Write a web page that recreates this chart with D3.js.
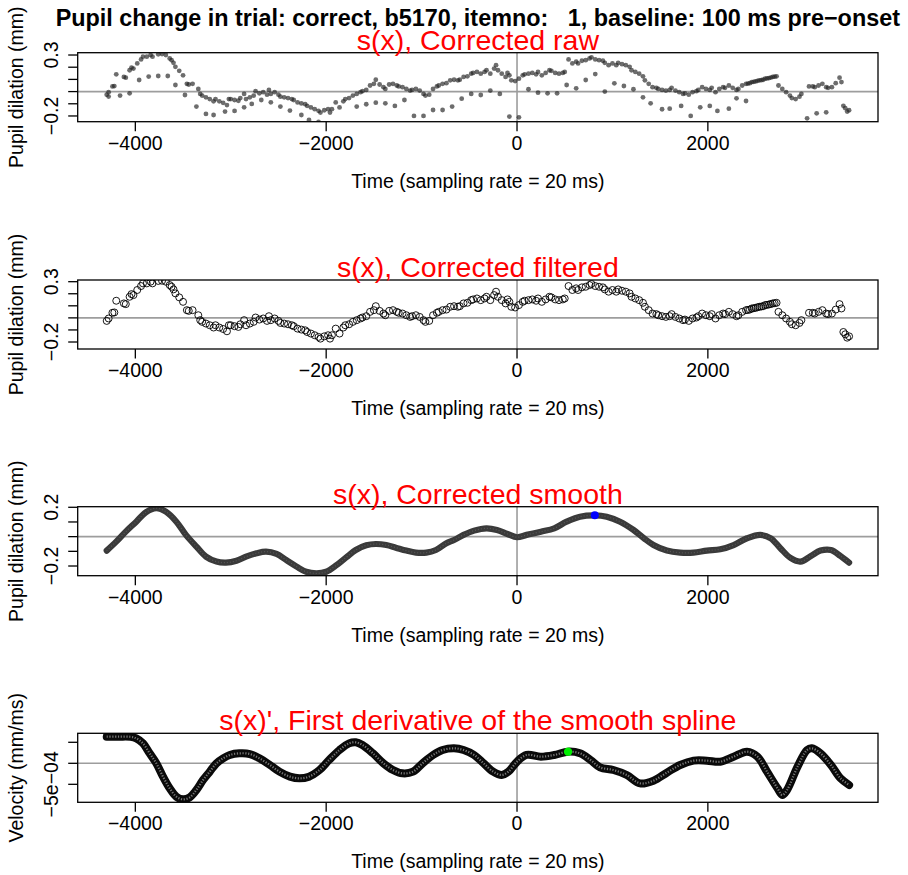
<!DOCTYPE html>
<html>
<head>
<meta charset="utf-8">
<script src="https://cdn.jsdelivr.net/npm/d3@7"></script>
<style>
  body { margin: 0; background: #fff; }
  svg { display: block; }
  text { font-family: "Liberation Sans", Arial, Helvetica, sans-serif; }
</style>
</head>
<body>
<svg id="chart" width="908" height="875"></svg>
<script>
// ---- text ----
const mainTitle = "Pupil change in trial: correct, b5170, itemno:   1, baseline: 100 ms pre\u2212onset";
const panelTitles = [
  "s(x), Corrected raw",
  "s(x), Corrected filtered",
  "s(x), Corrected smooth",
  "s(x)', First derivative of the smooth spline"
];
const yTitles = ["Pupil dilation (mm)", "Pupil dilation (mm)", "Pupil dilation (mm)", "Velocity (mm/ms)"];
const xTitle = "Time (sampling rate = 20 ms)";

// ---- axis ticks ----
const xTicks = [-4000, -2000, 0, 2000];
const yTicksPupil = [-0.2, -0.1, 0, 0.1, 0.2, 0.3];
const yTicksSmooth = [-0.2, -0.1, 0, 0.1, 0.2];
const yTicksVelocity = [-5e-4, 0, 5e-4];

// ---- corrected pupil trace (ms, mm) ----
const pupilTime = [
  -4300,-4280,-4240,-4220,-4200,-4120,-4100,-4060,-4040,-4020,-3980,-3940,-3920,-3880,-3840,-3820,
  -3760,-3720,-3680,-3640,-3620,-3600,-3580,-3540,-3500,-3460,-3440,-3400,-3340,-3320,-3300,-3260,
  -3220,-3180,-3160,-3120,-3080,-3040,-3020,-3000,-2960,-2920,-2900,-2860,-2840,-2800,-2760,-2740,
  -2700,-2660,-2620,-2600,-2580,-2540,-2500,-2480,-2440,-2400,-2360,-2340,-2300,-2260,-2220,-2200,
  -2160,-2120,-2080,-2060,-2020,-1980,-1960,-1940,-1900,-1860,-1820,-1800,-1760,-1720,-1680,-1640,
  -1620,-1580,-1540,-1500,-1480,-1440,-1400,-1380,-1340,-1300,-1260,-1240,-1200,-1160,-1120,-1100,
  -1060,-1020,-980,-960,-920,-880,-840,-820,-780,-740,-700,-660,-620,-600,-560,-520,
  -480,-460,-420,-380,-340,-320,-280,-240,-220,-200,-160,-120,-100,-80,-60,-20,
  20,60,80,120,160,200,220,260,300,340,360,400,440,480,500,540,
  580,620,640,680,720,760,780,820,860,900,920,960,1000,1040,1060,1100,
  1140,1180,1200,1240,1280,1320,1340,1380,1420,1460,1480,1520,1560,1600,1620,1660,
  1700,1740,1760,1800,1840,1880,1900,1940,1980,2020,2040,2080,2120,2160,2180,2220,
  2260,2300,2320,2360,2400,2420,2440,2460,2480,2500,2520,2540,2560,2580,2600,2620,
  2640,2660,2680,2700,2720,2740,2780,2820,2860,2880,2920,2960,2980,3060,3100,3120,
  3160,3200,3240,3260,3300,3340,3380,3400,3420,3440,3460,3480
];
const pupilValue = [
  -0.025,-0.005,0.042,0.045,0.142,0.120,0.114,0.175,0.197,0.189,0.231,0.264,0.286,0.286,0.300,0.286,
  0.306,0.308,0.300,0.272,0.258,0.236,0.203,0.170,0.133,0.064,0.058,0.064,0.022,-0.019,-0.033,-0.047,
  -0.061,-0.080,-0.061,-0.080,-0.092,-0.111,-0.061,-0.061,-0.069,-0.075,-0.053,-0.019,-0.061,-0.047,-0.033,0.003,
  -0.014,-0.005,-0.025,0.014,-0.019,-0.005,-0.025,-0.042,-0.047,-0.053,-0.061,-0.069,-0.089,-0.097,-0.103,-0.117,
  -0.130,-0.144,-0.158,-0.172,-0.153,-0.144,-0.172,-0.144,-0.089,-0.130,-0.080,-0.061,-0.053,-0.033,-0.019,-0.005,
  0.003,0.014,0.050,0.064,0.097,0.058,0.036,0.022,0.058,0.064,0.050,0.042,0.036,0.022,0.008,0.014,
  0.022,0.008,-0.019,-0.033,-0.025,0.022,0.042,0.050,0.064,0.069,0.092,0.097,0.092,0.097,0.120,0.125,
  0.147,0.153,0.161,0.147,0.161,0.175,0.147,0.189,0.217,0.175,0.147,0.120,0.153,0.133,0.092,0.086,
  0.106,0.133,0.142,0.147,0.153,0.142,0.161,0.133,0.153,0.175,0.170,0.153,0.147,0.153,0.161,0.264,
  0.231,0.245,0.231,0.253,0.258,0.272,0.281,0.264,0.258,0.253,0.236,0.217,0.231,0.217,0.236,0.225,
  0.217,0.203,0.175,0.161,0.147,0.125,0.092,0.064,0.036,0.031,0.022,0.014,0.008,0.014,0.031,0.008,
  -0.005,-0.019,-0.014,-0.025,-0.005,0.003,0.014,0.036,0.022,0.014,0.031,-0.005,0.022,0.036,0.031,0.050,
  0.031,0.014,0.022,0.050,0.064,0.066,0.069,0.078,0.080,0.083,0.088,0.092,0.094,0.097,0.106,0.108,
  0.111,0.115,0.120,0.122,0.125,0.050,0.022,-0.005,-0.033,-0.053,-0.061,-0.042,-0.019,0.042,0.042,0.036,
  0.050,0.064,0.036,0.031,0.036,0.069,0.114,0.078,-0.117,-0.136,-0.164,-0.153
];

// ---- raw samples that the filter removes (ms, mm) ----
const rawDropTime = [
  -4280,-4160,-4060,-3960,-3860,-3760,-3660,-3580,-3480,-3360,-3260,-3180,-3060,-2960,-2860,-2780,
  -2680,-2580,-2480,-2380,-2260,-2180,-2080,-1680,-1580,-1480,-1380,-1280,-1180,-1080,-980,-880,
  -780,-680,-580,-480,-380,-280,-180,-80,20,120,220,320,420,520,620,720,
  820,920,1020,1120,1220,1320,1400,1520,1600,1720,1820,1920,2020,2100,2220,2300,
  2400,3040,3140,3240
];
const rawDropValue = [
  -0.041,-0.033,-0.014,0.095,0.123,0.128,0.128,0.054,-0.028,-0.123,-0.183,-0.192,-0.164,-0.159,-0.129,-0.101,
  -0.069,-0.088,-0.123,-0.156,-0.192,-0.233,-0.249,-0.123,-0.104,-0.091,-0.096,-0.118,-0.069,-0.200,-0.200,-0.151,
  -0.151,-0.123,-0.058,-0.019,-0.028,0.008,-0.019,-0.205,-0.211,0.019,-0.009,-0.014,-0.014,0.054,0.027,0.095,
  0.144,0.000,0.068,0.046,0.019,-0.047,-0.096,-0.145,-0.140,-0.118,-0.200,-0.129,-0.118,-0.159,-0.140,-0.055,
  -0.077,-0.219,-0.178,-0.170
];

// ---- smoothing spline (ms, mm) ----
const smoothTime = [
  -4300,-4200,-4100,-3990,-3890,-3780,-3680,-3570,-3470,-3360,-3260,-3150,-3050,-2940,-2840,-2730,
  -2630,-2520,-2420,-2310,-2210,-2100,-2000,-1890,-1790,-1690,-1580,-1480,-1370,-1270,-1160,-1060,
  -950,-850,-740,-660,-560,-450,-320,-210,-100,0,100,250,390,520,660,815,
  940,1080,1220,1330,1430,1570,1710,1850,1990,2130,2270,2410,2550,2660,2760,2870,
  2970,3080,3180,3290,3390,3480
];
const smoothValue = [
  -0.095,-0.034,0.034,0.102,0.166,0.194,0.170,0.102,0.012,-0.068,-0.136,-0.170,-0.177,-0.164,-0.136,-0.113,
  -0.102,-0.118,-0.159,-0.204,-0.239,-0.250,-0.239,-0.193,-0.141,-0.091,-0.059,-0.050,-0.057,-0.075,-0.095,-0.109,
  -0.109,-0.091,-0.045,-0.023,0.012,0.041,0.057,0.046,0.018,-0.004,0.012,0.034,0.057,0.102,0.136,0.145,
  0.136,0.102,0.046,-0.011,-0.057,-0.095,-0.109,-0.109,-0.095,-0.086,-0.057,-0.011,0.012,-0.011,-0.079,-0.147,
  -0.170,-0.132,-0.095,-0.091,-0.132,-0.177
];
const smoothPeakTime = [815];
const smoothPeakValue = [0.145];

// ---- first derivative of the spline (ms, mm/ms) ----
const velocityTime = [
  -4300,-4170,-4050,-3990,-3920,-3850,-3780,-3710,-3640,-3570,-3500,-3430,-3360,-3290,-3220,-3150,
  -3080,-3010,-2910,-2800,-2700,-2590,-2490,-2380,-2280,-2180,-2070,-1970,-1860,-1760,-1690,-1620,
  -1510,-1400,-1300,-1200,-1090,-990,-880,-780,-660,-560,-450,-350,-250,-160,-90,0,
  100,250,390,535,660,770,870,1010,1150,1290,1430,1570,1710,1850,1990,2130,
  2270,2410,2520,2620,2730,2780,2830,2940,3040,3090,3180,3290,3390,3480
];
const velocityValue = [
  6.34e-4,6.34e-4,6.30e-4,5.94e-4,4.75e-4,2.37e-4,0,-3.18e-4,-5.96e-4,-7.94e-4,-8.58e-4,-8.10e-4,-6.35e-4,-3.97e-4,-1.99e-4,0,
  1.18e-4,1.98e-4,2.37e-4,2.21e-4,1.18e-4,-0.40e-4,-1.99e-4,-3.18e-4,-3.58e-4,-3.18e-4,-1.59e-4,0.79e-4,3.17e-4,4.75e-4,5.00e-4,4.36e-4,
  2.37e-4,0,-1.59e-4,-2.39e-4,-1.99e-4,0,1.98e-4,3.17e-4,3.56e-4,3.17e-4,1.98e-4,0,-1.99e-4,-2.78e-4,-1.99e-4,0.39e-4,
  1.98e-4,1.58e-4,1.98e-4,2.77e-4,2.37e-4,0.79e-4,-0.96e-4,-1.59e-4,-2.78e-4,-4.77e-4,-4.13e-4,-2.23e-4,-0.40e-4,0.63e-4,0.63e-4,0.39e-4,
  1.58e-4,2.77e-4,1.58e-4,-1.99e-4,-5.96e-4,-7.54e-4,-6.35e-4,-0.80e-4,3.17e-4,3.56e-4,2.37e-4,-0.40e-4,-3.58e-4,-5.16e-4
];
const velocityPeakTime = [535];
const velocityPeakValue = [2.77e-4];

// ---- layout ----
const plotLeft = 77.7, plotRight = 878;
const panelTop = [52.7, 280, 506.7, 733.3];
const panelH = 69;
const baseFont = 19.5;

const svg = d3.select("#chart");
const x = d3.scaleLinear().domain([-4604, 3783]).range([plotLeft, plotRight]);

const zip = (t, v) => t.map((d, i) => ({ t: d, v: v[i] }));
const fmtDec = d3.format(".1f");
function fmtSci(v) {
  if (v === 0) return "0e+00";
  const e = Math.floor(Math.log10(Math.abs(v)));
  const m = Math.round(v / Math.pow(10, e));
  return (m < 0 ? "\u2212" : "") + Math.abs(m) + "e" + (e < 0 ? "\u2212" : "+") + String(Math.abs(e)).padStart(2, "0");
}

const panels = [
  { domain: [-0.247, 0.319], ticks: yTicksPupil, fmt: fmtDec },
  { domain: [-0.258, 0.314], ticks: yTicksPupil, fmt: fmtDec },
  { domain: [-0.266, 0.204], ticks: yTicksSmooth, fmt: fmtDec },
  { domain: [-9.28e-4, 7.14e-4], ticks: yTicksVelocity, fmt: fmtSci }
];

// main title
svg.append("text")
  .attr("x", (plotLeft + plotRight) / 2).attr("y", 26)
  .attr("text-anchor", "middle")
  .attr("font-size", 23.4).attr("font-weight", "bold")
  .attr("xml:space", "preserve").style("white-space", "pre")
  .text(mainTitle);

panels.forEach((p, i) => {
  const top = panelTop[i], bottom = top + panelH;
  const y = d3.scaleLinear().domain(p.domain).range([bottom, top]);
  const g = svg.append("g");

  const clipId = "clip" + i;
  svg.append("clipPath").attr("id", clipId)
    .append("rect").attr("x", plotLeft).attr("y", top)
    .attr("width", plotRight - plotLeft).attr("height", panelH);
  const plot = g.append("g").attr("clip-path", `url(#${clipId})`);

  // reference lines at zero
  plot.append("line")
    .attr("x1", plotLeft).attr("x2", plotRight)
    .attr("y1", y(0)).attr("y2", y(0))
    .attr("stroke", "#9d9d9d").attr("stroke-width", 1.6);
  plot.append("line")
    .attr("x1", x(0)).attr("x2", x(0))
    .attr("y1", top).attr("y2", bottom)
    .attr("stroke", "#9d9d9d").attr("stroke-width", 1.6);

  if (i === 0) {
    const pts = zip(pupilTime, pupilValue).concat(zip(rawDropTime, rawDropValue));
    plot.selectAll("circle.raw").data(pts).join("circle")
      .attr("class", "raw")
      .attr("cx", d => x(d.t)).attr("cy", d => y(d.v)).attr("r", 2.4)
      .attr("fill", "#222").attr("fill-opacity", 0.66);
  } else if (i === 1) {
    plot.selectAll("circle.filt").data(zip(pupilTime, pupilValue)).join("circle")
      .attr("class", "filt")
      .attr("cx", d => x(d.t)).attr("cy", d => y(d.v)).attr("r", 3.5)
      .attr("fill", "none").attr("stroke", "#000").attr("stroke-width", 0.9);
  } else if (i === 2) {
    const line = d3.line().x(d => x(d.t)).y(d => y(d.v)).curve(d3.curveCatmullRom.alpha(0.5));
    const data = zip(smoothTime, smoothValue);
    plot.append("path").datum(data).attr("d", line)
      .attr("fill", "none").attr("stroke", "#3a3a3a").attr("stroke-width", 6.2)
      .attr("stroke-linecap", "round").attr("stroke-linejoin", "round");
    plot.append("path").datum(data).attr("d", line)
      .attr("fill", "none").attr("stroke", "#777").attr("stroke-width", 1.2)
      .attr("stroke-dasharray", "1 2").attr("stroke-opacity", 0.5);
    plot.selectAll("circle.peak").data(zip(smoothPeakTime, smoothPeakValue)).join("circle")
      .attr("class", "peak")
      .attr("cx", d => x(d.t)).attr("cy", d => y(d.v)).attr("r", 4)
      .attr("fill", "#0000ff");
  } else {
    const line = d3.line().x(d => x(d.t)).y(d => y(d.v)).curve(d3.curveCatmullRom.alpha(0.5));
    const data = zip(velocityTime, velocityValue);
    plot.append("path").datum(data).attr("d", line)
      .attr("fill", "none").attr("stroke", "#0a0a0a").attr("stroke-width", 8)
      .attr("stroke-linecap", "round").attr("stroke-linejoin", "round");
    plot.append("path").datum(data).attr("d", line)
      .attr("fill", "none").attr("stroke", "#fff").attr("stroke-width", 2.2)
      .attr("stroke-dasharray", "1.2 1.6").attr("stroke-opacity", 0.45);
    plot.selectAll("circle.peak").data(zip(velocityPeakTime, velocityPeakValue)).join("circle")
      .attr("class", "peak")
      .attr("cx", d => x(d.t)).attr("cy", d => y(d.v)).attr("r", 4.2)
      .attr("fill", "#00ee00");
  }

  // frame
  g.append("rect")
    .attr("x", plotLeft).attr("y", top)
    .attr("width", plotRight - plotLeft).attr("height", panelH)
    .attr("fill", "none").attr("stroke", "#000").attr("stroke-width", 1.3);

  // x axis
  const xAxis = g.append("g").attr("transform", `translate(0,${bottom})`);
  xAxis.selectAll("line").data(xTicks).join("line")
    .attr("x1", d => x(d)).attr("x2", d => x(d))
    .attr("y1", 0).attr("y2", 9.5)
    .attr("stroke", "#000").attr("stroke-width", 1.3);
  xAxis.selectAll("text").data(xTicks).join("text")
    .attr("x", d => x(d)).attr("y", 28)
    .attr("text-anchor", "middle").attr("font-size", baseFont)
    .text(d => d3.format("d")(d));
  g.append("text")
    .attr("x", (plotLeft + plotRight) / 2).attr("y", bottom + 66)
    .attr("text-anchor", "middle").attr("font-size", baseFont)
    .text(xTitle);

  // y axis: every tick gets a mark; labels that would collide with the previous one are dropped
  const yAxis = g.append("g");
  yAxis.selectAll("line").data(p.ticks).join("line")
    .attr("x1", plotLeft - 9.5).attr("x2", plotLeft)
    .attr("y1", d => y(d)).attr("y2", d => y(d))
    .attr("stroke", "#000").attr("stroke-width", 1.3);
  const gapM = (() => {
    const t = svg.append("text").attr("font-size", baseFont).text("m");
    const w = t.node().getComputedTextLength(); t.remove(); return w;
  })();
  let lastTop = Infinity;
  p.ticks.forEach(v => {
    const py = y(v);
    const t = yAxis.append("text")
      .attr("transform", `translate(${plotLeft - 20.2},${py}) rotate(-90)`)
      .attr("text-anchor", "middle").attr("font-size", baseFont)
      .text(p.fmt(v));
    const len = t.node().getComputedTextLength();
    if (lastTop - (py + len / 2) >= gapM * 1.05) {
      lastTop = py - len / 2;
    } else {
      t.remove();
    }
  });
  g.append("text")
    .attr("transform", `translate(22.5,${top + panelH / 2}) rotate(-90)`)
    .attr("text-anchor", "middle").attr("font-size", baseFont)
    .text(yTitles[i]);

  // panel title
  g.append("text")
    .attr("x", (plotLeft + plotRight) / 2).attr("y", top - 3)
    .attr("text-anchor", "middle").attr("font-size", 28.5)
    .attr("fill", "#ff0000")
    .text(panelTitles[i]);
});
</script>
</body>
</html>
